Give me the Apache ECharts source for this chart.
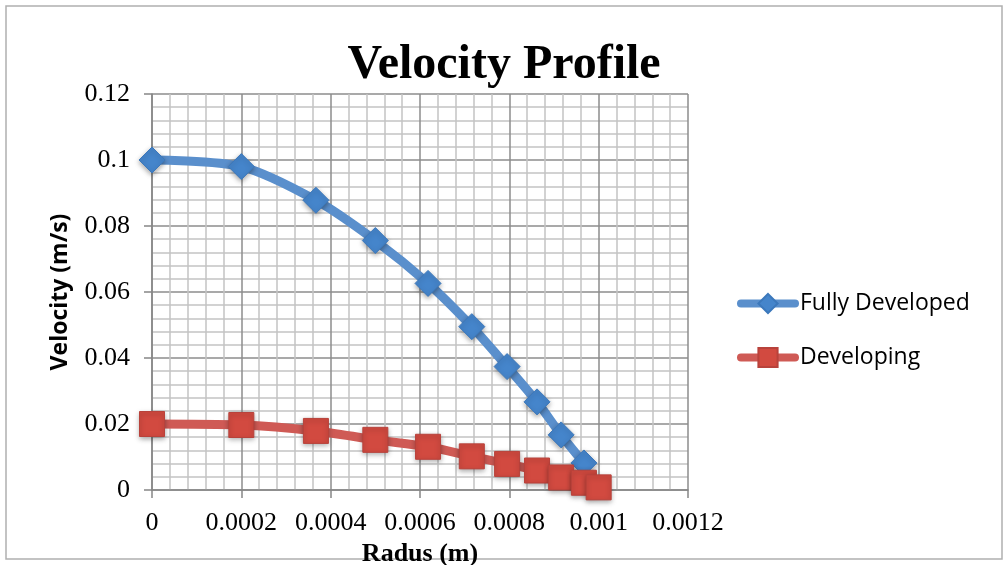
<!DOCTYPE html>
<html>
<head>
<meta charset="utf-8">
<script src="https://cdn.jsdelivr.net/npm/echarts@6/dist/echarts.min.js"></script>
<style>
html, body { margin: 0; padding: 0; background: #fff; }
#main { width: 1008px; height: 565px; }
</style>
</head>
<body>
<div id="main"></div>
<script>
// radius (m) and velocity (m/s)
var radiusFull = [0, 0.0002, 0.000367, 0.0005, 0.000618, 0.000716, 0.000795, 0.000862, 0.000916, 0.000967];
var velFull = [0.1, 0.098, 0.0878, 0.0756, 0.0626, 0.0495, 0.0374, 0.0267, 0.0167, 0.0082];

var radiusDev = [0, 0.0002, 0.000367, 0.0005, 0.000618, 0.000716, 0.000795, 0.000862, 0.000916, 0.000967, 0.001];
var velDev = [0.02, 0.0197, 0.0179, 0.0152, 0.0131, 0.0102, 0.0079, 0.0059, 0.0038, 0.0022, 0.0008];

var xTicks = { min: 0, max: 0.0012, step: 0.0002 };
var yTicks = { min: 0, max: 0.12, step: 0.02 };

function pairs(xs, ys) {
    var out = [];
    for (var i = 0; i < xs.length; i++) out.push([xs[i], ys[i]]);
    return out;
}
function fmt(v) {
    return String(parseFloat(v.toPrecision(6)));
}

var chart = echarts.init(document.getElementById('main'));

var axisCommon = {
    type: 'value',
    axisLine: { show: true, lineStyle: { color: '#868686', width: 1.5 } },
    axisTick: { show: true, length: 8, lineStyle: { color: '#868686', width: 1.5 } },
    minorTick: { show: false, splitNumber: 5 },
    splitLine: { show: true, lineStyle: { color: '#8c8c8c', width: 1.5 } },
    minorSplitLine: { show: true, lineStyle: { color: '#c4c4c4', width: 1.5 } },
    axisLabel: {
        color: '#000',
        fontFamily: 'Liberation Serif',
        fontSize: 26,
        formatter: fmt
    }
};

var option = {
    animation: false,
    backgroundColor: '#fff',
    graphic: [{
        type: 'rect',
        shape: { x: 6, y: 6, width: 996, height: 553 },
        style: { fill: 'none', stroke: '#b0b0b0', lineWidth: 1.5 },
        silent: true
    }],
    title: {
        text: 'Velocity Profile',
        left: 'center',
        top: 37,
        textStyle: {
            fontFamily: 'Liberation Serif',
            fontWeight: 'bold',
            fontSize: 48,
            color: '#000'
        }
    },
    grid: {
        left: 152,
        right: 320,
        top: 94,
        bottom: 75,
        containLabel: false,
        outerBoundsMode: 'none'
    },
    legend: {
        orient: 'vertical',
        left: 737,
        top: 292,
        padding: 0,
        itemWidth: 54,
        itemHeight: 24,
        itemGap: 31,
        lineStyle: { width: 8, cap: 'round' },
        textStyle: {
            fontFamily: 'Open Sans',
            fontSize: 23,
            color: '#000'
        },
        data: ['Fully Developed', 'Developing']
    },
    xAxis: echarts.util.merge({
        min: xTicks.min,
        max: xTicks.max,
        interval: xTicks.step,
        name: 'Radus (m)',
        nameLocation: 'middle',
        nameGap: 32,
        nameTextStyle: {
            fontFamily: 'Liberation Serif',
            fontWeight: 'bold',
            fontSize: 26,
            color: '#000'
        },
        axisLabel: { margin: 20 }
    }, axisCommon),
    yAxis: echarts.util.merge({
        min: yTicks.min,
        max: yTicks.max,
        interval: yTicks.step,
        name: 'Velocity (m/s)',
        nameLocation: 'middle',
        nameGap: 80,
        nameTextStyle: {
            fontFamily: 'Open Sans',
            fontWeight: 'bold',
            fontSize: 23,
            color: '#000'
        },
        axisLabel: { margin: 22 }
    }, axisCommon),
    series: [{
        name: 'Fully Developed',
        type: 'line',
        data: pairs(radiusFull, velFull),
        smooth: 0.3,
        symbol: 'diamond',
        symbolSize: 26,
        lineStyle: { color: '#5a8fcc', width: 9 },
        itemStyle: {
            color: '#4585cb',
            borderColor: '#3c78bb',
            borderWidth: 1,
            shadowBlur: 5,
            shadowColor: 'rgba(0,0,0,0.35)',
            shadowOffsetY: 2
        },
        z: 3
    }, {
        name: 'Developing',
        type: 'line',
        data: pairs(radiusDev, velDev),
        smooth: 0.3,
        symbol: 'rect',
        symbolSize: 25,
        lineStyle: { color: '#cf5a55', width: 9 },
        itemStyle: {
            color: '#d24a40',
            borderColor: '#b8423b',
            borderWidth: 1,
            shadowBlur: 5,
            shadowColor: 'rgba(0,0,0,0.35)',
            shadowOffsetY: 2
        },
        z: 4
    }]
};

chart.setOption(option);
</script>
</body>
</html>
